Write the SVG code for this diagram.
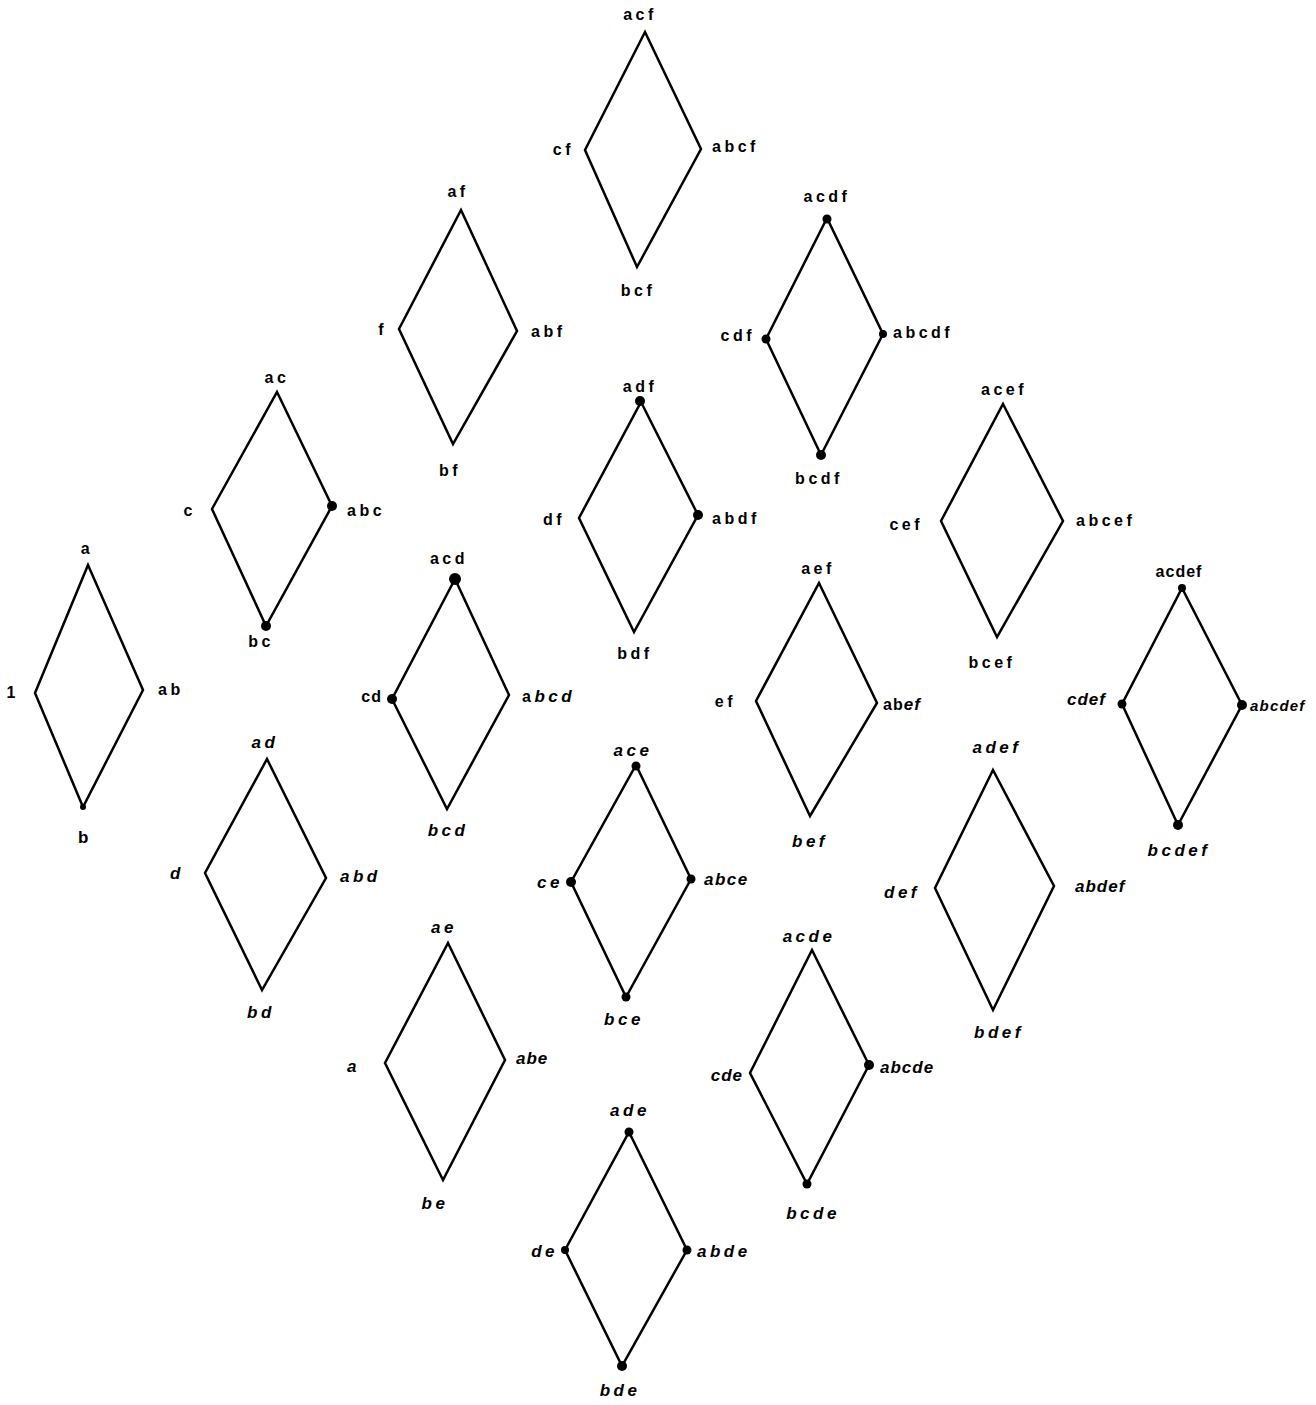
<svg xmlns="http://www.w3.org/2000/svg" width="1316" height="1405" viewBox="0 0 1316 1405">
<style>
.d{fill:none;stroke:#000;stroke-width:2.5;stroke-linejoin:miter}
.p{fill:#000}
text{font-family:"Liberation Sans",Arial,sans-serif;font-weight:bold;font-size:16px;letter-spacing:3.5px;fill:#000}
.m{text-anchor:middle}
.e{text-anchor:end}
.i{font-style:italic;font-size:17px}
</style>
<rect width="1316" height="1405" fill="#fff"/>
<g id="connectors"></g>
<g id="n-a">
<polygon class="d" points="88,565 143,690 83,807 35,693"/>
<circle class="p" cx="83" cy="807" r="3"/>
<text class="m" x="87" y="554">a</text><text class="e" x="19" y="698">1</text><text x="158" y="695">ab</text><text class="m" x="85" y="843" style="font-size:17px">b</text>
</g>
<g id="n-ac">
<polygon class="d" points="277,392 332,506 266,626 212,509"/>
<circle class="p" cx="332" cy="506" r="5"/><circle class="p" cx="266" cy="626" r="5"/>
<text class="m" x="277" y="383">ac</text><text class="e" x="196" y="516">c</text><text x="347" y="516">abc</text><text class="m" x="261" y="647">bc</text>
</g>
<g id="n-af">
<polygon class="d" points="461,210 517,331 453,444 399,329"/>
<text class="m" x="458" y="197">af</text><text class="e" x="387" y="335">f</text><text x="531" y="337">abf</text><text class="m" x="450" y="476">bf</text>
</g>
<g id="n-acf">
<polygon class="d" points="645,32 701,149 637,267 585,150"/>
<text class="m" x="640" y="20">acf</text><text class="e" x="574" y="155">cf</text><text x="712" y="152">abcf</text><text class="m" x="638" y="296">bcf</text>
</g>
<g id="n-acdf">
<polygon class="d" points="827,218 883,334 821,455 766,339"/>
<circle class="p" cx="827" cy="219" r="4.5"/><circle class="p" cx="883" cy="334" r="4"/><circle class="p" cx="821" cy="455" r="5"/><circle class="p" cx="766" cy="339" r="4.5"/>
<text class="m" x="827" y="202">acdf</text><text class="e" x="755" y="341">cdf</text><text x="893" y="338">abcdf</text><text class="m" x="819" y="484">bcdf</text>
</g>
<g id="n-adf">
<polygon class="d" points="641,402 698,515 634,632 579,518"/>
<circle class="p" cx="640" cy="401" r="5"/><circle class="p" cx="698" cy="515" r="5"/>
<text class="m" x="640" y="392">adf</text><text class="e" x="565" y="525">df</text><text x="712" y="524">abdf</text><text class="m" x="635" y="659">bdf</text>
</g>
<g id="n-acef">
<polygon class="d" points="1003,404 1063,521 997,637 941,521"/>
<text class="m" x="1004" y="395">acef</text><text class="e" x="923" y="530">cef</text><text x="1076" y="526">abcef</text><text class="m" x="992" y="668">bcef</text>
</g>
<g id="n-acdef">
<polygon class="d" points="1182,588 1242,705 1178,825 1122,704"/>
<circle class="p" cx="1182" cy="588" r="4"/><circle class="p" cx="1242" cy="705" r="5"/><circle class="p" cx="1178" cy="825" r="5"/><circle class="p" cx="1122" cy="704" r="4.5"/>
<text class="m" x="1179" y="577" style="letter-spacing:1px">acdef</text><text class="e i" x="1106" y="705" style="letter-spacing:1px">cdef</text><text class="i" x="1250" y="711" style="font-size:15px;letter-spacing:1.2px">abcdef</text><text class="m i" x="1179" y="856">bcdef</text>
</g>
<g id="n-aef">
<polygon class="d" points="819,583 877,703 810,816 756,701"/>
<text class="m" x="818" y="574">aef</text><text class="e" x="736" y="707">ef</text><text x="883" y="710" style="letter-spacing:1px">ab<tspan class="i">ef</tspan></text><text class="m i" x="810" y="847">bef</text>
</g>
<g id="n-acd">
<polygon class="d" points="455,579 509,695 447,809 392,699"/>
<circle class="p" cx="455" cy="579" r="6"/><circle class="p" cx="392" cy="699" r="5"/>
<text class="m" x="449" y="564">acd</text><text class="e" x="382" y="702" style="letter-spacing:1px">cd</text><text x="522" y="702">a<tspan class="i">bcd</tspan></text><text class="m i" x="448" y="836">bcd</text>
</g>
<g id="n-ad">
<polygon class="d" points="267,759 326,878 262,990 205,873"/>
<text class="m i" x="265" y="748">ad</text><text class="e i" x="184" y="879">d</text><text class="i" x="340" y="882">abd</text><text class="m i" x="261" y="1018">bd</text>
</g>
<g id="n-ace">
<polygon class="d" points="636,765 691,879 626,997 571,882"/>
<circle class="p" cx="636" cy="766" r="4.5"/><circle class="p" cx="691" cy="879" r="4.5"/><circle class="p" cx="626" cy="997" r="4.5"/><circle class="p" cx="571" cy="882" r="5"/>
<text class="m i" x="633" y="756">ace</text><text class="e i" x="563" y="888">ce</text><text class="i" x="704" y="885" style="letter-spacing:1.5px">abce</text><text class="m i" x="624" y="1025">bce</text>
</g>
<g id="n-adef">
<polygon class="d" points="993,770 1054,886 993,1010 935,888"/>
<text class="m i" x="997" y="753">adef</text><text class="e i" x="920" y="898">def</text><text class="i" x="1075" y="892" style="letter-spacing:1px">abdef</text><text class="m i" x="999" y="1038">bdef</text>
</g>
<g id="n-ae">
<polygon class="d" points="448,943 505,1060 443,1180 385,1063"/>
<text class="m i" x="444" y="933">ae</text><text class="e i" x="360" y="1072">a</text><text class="i" x="516" y="1064" style="letter-spacing:1px">abe</text><text class="m i" x="435" y="1209">be</text>
</g>
<g id="n-acde">
<polygon class="d" points="812,950 869,1065 807,1184 750,1073"/>
<circle class="p" cx="869" cy="1065" r="5"/><circle class="p" cx="807" cy="1184" r="4.5"/>
<text class="m i" x="809" y="942">acde</text><text class="e i" x="743" y="1081" style="letter-spacing:1px">cde</text><text class="i" x="880" y="1073" style="letter-spacing:1px">abcde</text><text class="m i" x="813" y="1219">bcde</text>
</g>
<g id="n-ade">
<polygon class="d" points="629,1132 687,1250 622,1366 565,1250"/>
<circle class="p" cx="629" cy="1132" r="4.5"/><circle class="p" cx="687" cy="1250" r="4.5"/><circle class="p" cx="622" cy="1366" r="5"/><circle class="p" cx="565" cy="1250" r="4"/>
<text class="m i" x="630" y="1116">ade</text><text class="e i" x="558" y="1257">de</text><text class="i" x="697" y="1257">abde</text><text class="m i" x="620" y="1396">bde</text>
</g>
</svg>
